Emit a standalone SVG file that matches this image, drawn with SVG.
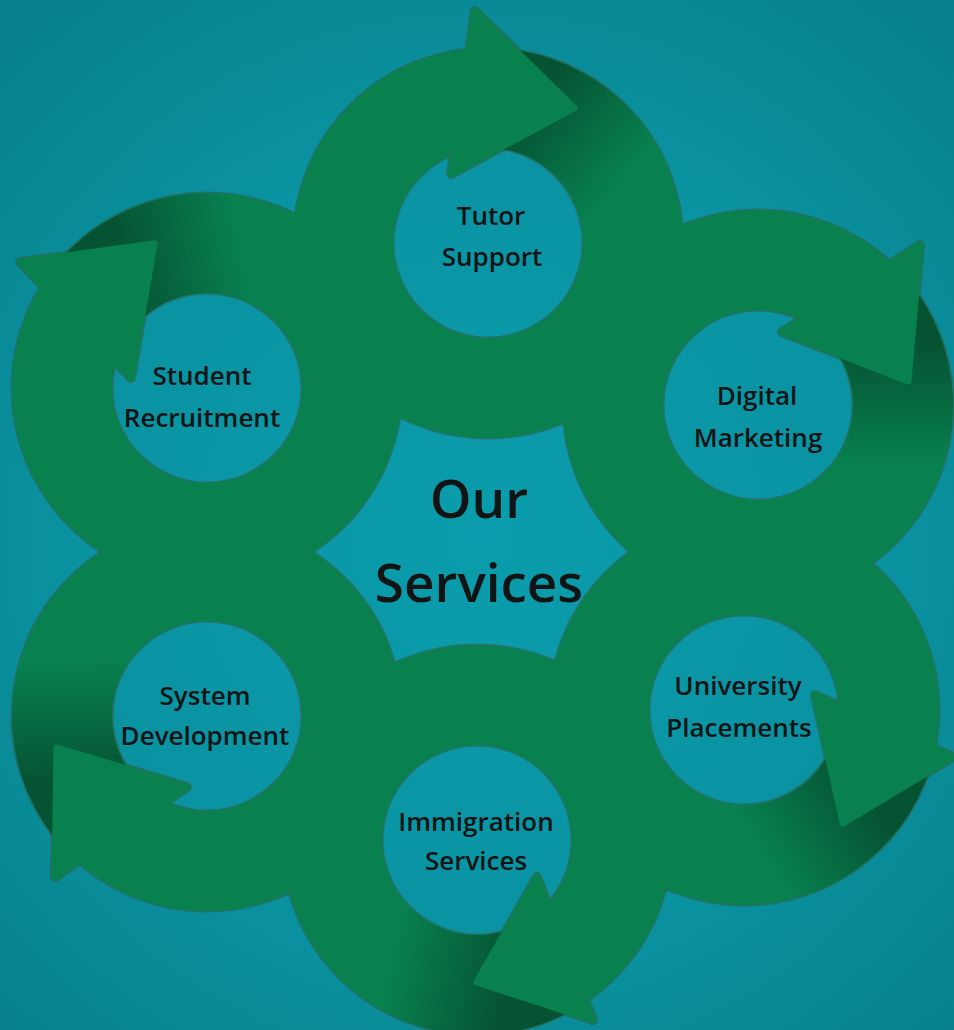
<svg xmlns="http://www.w3.org/2000/svg" width="954" height="1030" viewBox="0 0 954 1030">
<defs>
<radialGradient id="bg" cx="480" cy="540" r="700" gradientUnits="userSpaceOnUse">
<stop offset="0" stop-color="#0b9dad"/>
<stop offset="0.55" stop-color="#0a93a2"/>
<stop offset="1" stop-color="#08808b"/>
</radialGradient>
<linearGradient id="shTutor" gradientUnits="userSpaceOnUse" x1="528" y1="103.6" x2="620.5" y2="184"><stop offset="0" stop-color="#000" stop-opacity="0.36"/><stop offset="1" stop-color="#000" stop-opacity="0"/></linearGradient>
<linearGradient id="shStudent" gradientUnits="userSpaceOnUse" x1="121.8" y1="270.7" x2="242.1" y2="247.3"><stop offset="0" stop-color="#000" stop-opacity="0.36"/><stop offset="1" stop-color="#000" stop-opacity="0"/></linearGradient>
<linearGradient id="shDigital" gradientUnits="userSpaceOnUse" x1="889.4" y1="343.7" x2="889.4" y2="466.3"><stop offset="0" stop-color="#000" stop-opacity="0.36"/><stop offset="1" stop-color="#000" stop-opacity="0"/></linearGradient>
<linearGradient id="shUniversity" gradientUnits="userSpaceOnUse" x1="865.6" y1="789" x2="761.7" y2="853.9"><stop offset="0" stop-color="#000" stop-opacity="0.36"/><stop offset="1" stop-color="#000" stop-opacity="0"/></linearGradient>
<linearGradient id="shImmigration" gradientUnits="userSpaceOnUse" x1="509.6" y1="981.3" x2="389.7" y2="955.8"><stop offset="0" stop-color="#000" stop-opacity="0.36"/><stop offset="1" stop-color="#000" stop-opacity="0"/></linearGradient>
<linearGradient id="shSystem" gradientUnits="userSpaceOnUse" x1="77.8" y1="781.8" x2="73.5" y2="659.3"><stop offset="0" stop-color="#000" stop-opacity="0.36"/><stop offset="1" stop-color="#000" stop-opacity="0"/></linearGradient>
</defs>
<style>
.ring{fill:#08814f;fill-rule:evenodd}
.head{fill:#08814f;stroke:#08814f;stroke-width:7;stroke-linejoin:round}
.ol{fill:none;stroke:#2f6452;stroke-width:3;stroke-opacity:0.7}
.olh{fill:none;stroke:#2f6452;stroke-width:10;stroke-linejoin:round;stroke-opacity:0.7}
.lbl{font-family:"Open Sans","Noto Sans",sans-serif;font-weight:600;font-size:26px;fill:#101414;text-anchor:middle}
.title{font-family:"Open Sans","Noto Sans",sans-serif;font-weight:600;font-size:53px;fill:#101414;text-anchor:middle}
</style>
<rect width="954" height="1030" fill="url(#bg)"/>
<g id="outlines">
<circle class="ol" cx="488" cy="243" r="195"/><circle class="ol" cx="488" cy="243" r="95"/>
<circle class="ol" cx="207" cy="388" r="195"/><circle class="ol" cx="207" cy="388" r="95"/>
<circle class="ol" cx="758" cy="405" r="195"/><circle class="ol" cx="758" cy="405" r="95"/>
<circle class="ol" cx="744" cy="710" r="195"/><circle class="ol" cx="744" cy="710" r="95"/>
<circle class="ol" cx="477" cy="840" r="195"/><circle class="ol" cx="477" cy="840" r="95"/>
<circle class="ol" cx="207" cy="716" r="195"/><circle class="ol" cx="207" cy="716" r="95"/>
<polygon class="olh" points="475,11 574,108 451,174"/>
<polygon class="olh" points="20,262 154,244 131,378"/>
<polygon class="olh" points="920,245 908,381 782,332"/>
<polygon class="olh" points="953,757 843,823 815,695"/>
<polygon class="olh" points="537,877 593,1020 477,982"/>
<polygon class="olh" points="57,748 187,787 55,877"/>
</g>
<g id="node-tutor-support">
<path class="ring" d="M293,243A195,195 0 1 0 683,243A195,195 0 1 0 293,243ZM393,243A95,95 0 1 0 583,243A95,95 0 1 0 393,243Z"/>
<path fill="url(#shTutor)" d="M491.4,48A195,195 0 0 1 677.2,195.8L580.2,220A95,95 0 0 0 489.7,148Z"/>
<polygon class="head" points="475,11 574,108 451,174"/>
<text class="lbl" x="491" y="225">Tutor</text>
<text class="lbl" x="492" y="266">Support</text>
</g>
<g id="node-student-recruitment">
<path class="ring" d="M12,388A195,195 0 1 0 402,388A195,195 0 1 0 12,388ZM112,388A95,95 0 1 0 302,388A95,95 0 1 0 112,388Z"/>
<path fill="url(#shStudent)" d="M55.5,265.3A195,195 0 0 1 286.3,209.9L245.6,301.2A95,95 0 0 0 133.2,328.2Z"/>
<polygon class="head" points="20,262 154,244 131,378"/>
<text class="lbl" x="202" y="385">Student</text>
<text class="lbl" x="202" y="427">Recruitment</text>
</g>
<g id="node-digital-marketing">
<path class="ring" d="M563,405A195,195 0 1 0 953,405A195,195 0 1 0 563,405ZM663,405A95,95 0 1 0 853,405A95,95 0 1 0 663,405Z"/>
<path fill="url(#shDigital)" d="M907.4,279.7A195,195 0 0 1 917.7,516.9L835.8,459.5A95,95 0 0 0 830.8,343.9Z"/>
<polygon class="head" points="920,245 908,381 782,332"/>
<text class="lbl" x="757" y="405">Digital</text>
<text class="lbl" x="758" y="447">Marketing</text>
</g>
<g id="node-university-placements">
<path class="ring" d="M549,710A195,195 0 1 0 939,710A195,195 0 1 0 549,710ZM649,710A95,95 0 1 0 839,710A95,95 0 1 0 649,710Z"/>
<path fill="url(#shUniversity)" d="M929.5,770.3A195,195 0 0 1 733.8,904.7L739,804.9A95,95 0 0 0 834.4,739.4Z"/>
<polygon class="head" points="953,757 843,823 815,695"/>
<text class="lbl" x="738" y="695">University</text>
<text class="lbl" x="739" y="737">Placements</text>
</g>
<g id="node-immigration-services">
<path class="ring" d="M282,840A195,195 0 1 0 672,840A195,195 0 1 0 282,840ZM382,840A95,95 0 1 0 572,840A95,95 0 1 0 382,840Z"/>
<path fill="url(#shImmigration)" d="M568.6,1012.2A195,195 0 0 1 334.4,973L407.5,904.8A95,95 0 0 0 521.6,923.9Z"/>
<polygon class="head" points="537,877 593,1020 477,982"/>
<text class="lbl" x="476" y="831">Immigration</text>
<text class="lbl" x="476" y="870">Services</text>
</g>
<g id="node-system-development">
<path class="ring" d="M12,716A195,195 0 1 0 402,716A195,195 0 1 0 12,716ZM112,716A95,95 0 1 0 302,716A95,95 0 1 0 112,716Z"/>
<path fill="url(#shSystem)" d="M62.1,846.5A195,195 0 0 1 43.5,609.8L127.3,664.3A95,95 0 0 0 136.4,779.6Z"/>
<polygon class="head" points="57,748 187,787 55,877"/>
<text class="lbl" x="205" y="705">System</text>
<text class="lbl" x="205" y="745">Development</text>
</g>
<g id="node-our-services">
<text class="title" x="479" y="518">Our</text>
<text class="title" x="479" y="602">Services</text>
</g>
</svg>
